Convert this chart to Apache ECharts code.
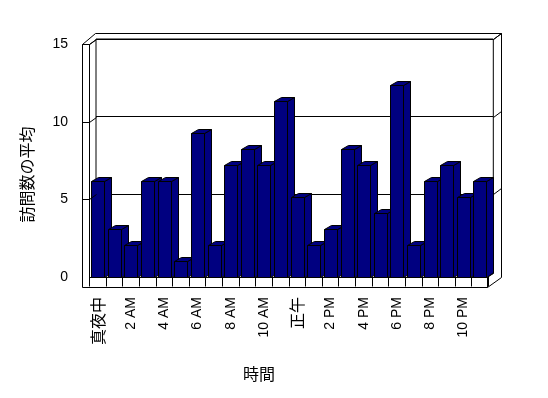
<!DOCTYPE html>
<html><head><meta charset="utf-8">
<script src="https://cdn.jsdelivr.net/npm/echarts@6/dist/echarts.min.js"></script>
<style>html,body{margin:0;padding:0;background:#fff}#c{width:548px;height:398px}</style>
</head><body><div id="c"></div>
<script>
const categories = ['真夜中','1 AM','2 AM','3 AM','4 AM','5 AM','6 AM','7 AM','8 AM','9 AM','10 AM','11 AM',
  '正午','1 PM','2 PM','3 PM','4 PM','5 PM','6 PM','7 PM','8 PM','9 PM','10 PM','11 PM'];
const visits = [6,3,2,6,6,1,9,2,7,8,7,11,5,2,3,8,7,4,12,2,6,7,5,6];
const yTicks = [0,5,10,15];
const xTitle = '時間';
const yTitle = '訪問数の平均';

const LATIN = "'Liberation Sans', Arial, sans-serif";
const CJK = "'Noto Sans CJK JP', sans-serif";
const isCJK = s => /[^\x00-\x7f]/.test(s);
const yMin = yTicks[0], yMax = yTicks[yTicks.length-1], yStep = yTicks[1]-yTicks[0];

// layout (pixels)
const W = 548, H = 398;
const G0 = {left:89.4, right:W-488.3, top:37, bottom:H-277};   // bars
const G1 = {left:96, right:W-493.3, top:39, bottom:H-271.5};   // back wall
const G2 = {left:82, width:7.3, top:44, bottom:H-277};          // front labels
const FL = 82, FI = 89.4, FR = 487.3, FT = 44, FB = 286.5, FF = 277;
const OL = 95.3, OR = 500.7, OT = 33.3, OB = 276.7;
const BL = G1.left, BR = W-G1.right, BT = G1.top, BB = H-G1.bottom;

const chart = echarts.init(document.getElementById('c'));
chart.setOption({
  animation:false,
  backgroundColor:'#fff',
  title:{text:xTitle, left:243, top:366, padding:0,
    textStyle:{fontFamily:CJK, fontSize:16, fontWeight:'normal', color:'#000'}},
  grid:[
    Object.assign({containLabel:false}, G0),
    Object.assign({show:true, borderColor:'#000', borderWidth:1, backgroundColor:'transparent'}, G1),
    Object.assign({}, G2)
  ],
  xAxis:[
    {type:'category', gridIndex:0, data:categories, boundaryGap:true,
      axisLine:{show:true, lineStyle:{color:'#000', width:1}},
      axisTick:{show:true, interval:0, length:9.5, lineStyle:{color:'#000'}},
      axisLabel:{interval:1, rotate:90, margin:20, color:'#000', fontFamily:LATIN, fontSize:14,
        formatter: v => isCJK(v) ? '{c|'+v+'}' : v,
        rich:{c:{fontFamily:CJK, fontSize:16, color:'#000'}}},
      splitLine:{show:false}},
    {type:'category', gridIndex:1, data:categories, show:false},
    {type:'value', gridIndex:2, show:false}
  ],
  yAxis:[
    {type:'value', gridIndex:0, min:yMin, max:yMax, interval:yStep, show:false, splitLine:{show:false}},
    {type:'value', gridIndex:1, min:yMin, max:yMax, interval:yStep,
      axisLine:{show:false}, axisTick:{show:false}, axisLabel:{show:false},
      splitLine:{show:true, lineStyle:{color:'#000', width:1}}},
    {type:'value', gridIndex:2, min:yMin, max:yMax, interval:yStep,
      axisLine:{show:false}, axisTick:{show:false}, splitLine:{show:false},
      axisLabel:{margin:14, color:'#000', fontFamily:LATIN, fontSize:14},
      name:yTitle, nameLocation:'middle', nameGap:47, nameRotate:90,
      nameTextStyle:{fontFamily:CJK, fontSize:16, color:'#000', padding:[0,28,0,0]}}
  ],
  series:[{
    type:'custom', xAxisIndex:0, yAxisIndex:0,
    data: visits.map((v,i)=>[i,v]),
    renderItem(params, api){
      const i = api.value(0), v = api.value(1);
      const b = api.coord([i,0]), t = api.coord([i,v]);
      const slot = api.size([1,0])[0];
      const w = Math.round(slot*0.78), dx = Math.round(slot*0.42), dy = -Math.round(slot*0.27);
      const x0 = Math.round(b[0]-w/2)+0.5, x1 = x0+w;
      const yt = Math.round(t[1])+0.5, yb = Math.round(b[1])+0.5;
      const style = {fill:'#000080', stroke:'#000', lineWidth:1};
      return {type:'group', children:[
        {type:'polygon', shape:{points:[[x1,yt],[x1+dx,yt+dy],[x1+dx,yb+dy],[x1,yb]]}, style},
        {type:'polygon', shape:{points:[[x0,yt],[x0+dx,yt+dy],[x1+dx,yt+dy],[x1,yt]]}, style},
        {type:'rect', shape:{x:x0,y:yt,width:w,height:yb-yt}, style}
      ]};
    }
  }]
});

// 3D frame (walls and floor) around the plot
const p = v => Math.round(v)+0.5;
const seg = pts => ({type:'polyline', silent:true, z:10,
  shape:{points:pts.map(q=>[p(q[0]),p(q[1])])}, style:{stroke:'#000', lineWidth:1, fill:null}});
const els = [
  seg([[FL,FT],[FL,FB],[FR,FB],[FR,FF]]),
  seg([[FL,FT],[FI,FT],[FI,FF]]),
  seg([[FL,FT],[OL,OT],[OR,OT],[OR,OB],[FR,FB]]),
  seg([[FI,FT],[BL,BT]]),
  seg([[BR,BT],[OR,OT]]),
  seg([[FR,FF],[BR,BB]])
];
yTicks.forEach(v=>{
  if (v===yMin) return;
  const yf = chart.convertToPixel({yAxisIndex:2}, v);
  const yb = chart.convertToPixel({yAxisIndex:1}, v);
  els.push(seg([[FL,yf],[FI,yf],[BL,yb]]));
  els.push(seg([[BR,yb],[OR,yb-(BT-OT)]]));
});
chart.setOption({graphic:{elements:els}});
</script></body></html>
